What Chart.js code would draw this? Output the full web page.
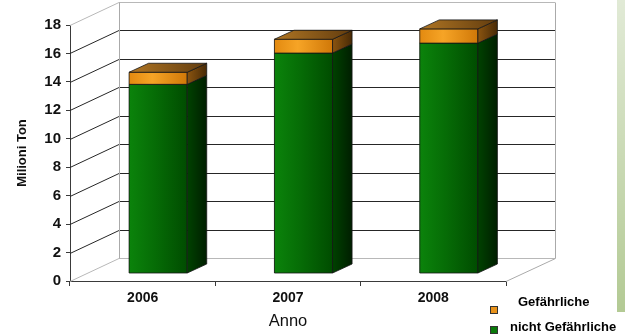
<!DOCTYPE html>
<html>
<head>
<meta charset="utf-8">
<title>Rifiuti speciali</title>
<script src="https://cdn.jsdelivr.net/npm/chart.js@4.4.1/dist/chart.umd.min.js"></script>
<style>
  html, body { margin: 0; padding: 0; background: #fff; }
  #wrap { position: relative; width: 625px; height: 335px; }
  #band {
    position: absolute; left: 617px; top: 0; width: 8px; height: 312px;
    background: linear-gradient(to bottom, #e1ead6, #b3ca94);
  }
</style>
</head>
<body>
<div id="wrap">
  <canvas id="chart" width="625" height="335"></canvas>
  <div id="band"></div>
</div>
<script>
// Anni e quantità (milioni di tonnellate)
const years = ['2006', '2007', '2008'];
const nichtGefaehrliche = [13.3, 15.5, 16.2];
const gefaehrliche = [0.85, 0.97, 1.0];
const yMax = 18;
const yStep = 2;

const FONT = "'Liberation Sans', Arial, sans-serif";

// depth of the floor/walls and of the bars (oblique projection)
const WALL_DX = 49, WALL_DY = -23;
const PLANE_DX = 15.5, PLANE_DY = -7.5;
const BAR_DX = 19.5, BAR_DY = -9;

function gradient(ctx, x0, y0, x1, y1, stops) {
    const g = ctx.createLinearGradient(x0, y0, x1, y1);
    stops.forEach(([p, c]) => g.addColorStop(p, c));
    return g;
}

function poly(ctx, pts, fill) {
    ctx.beginPath();
    ctx.moveTo(pts[0][0], pts[0][1]);
    for (let i = 1; i < pts.length; i++) ctx.lineTo(pts[i][0], pts[i][1]);
    ctx.closePath();
    ctx.fillStyle = fill;
    ctx.fill();
    ctx.stroke();
}

const shades = {
    green: {
        front: [[0, '#0b830b'], [0.45, '#066c06'], [1, '#004c00']],
        side: [[0, '#004200'], [1, '#001e00']]
    },
    orange: {
        front: [[0, '#e38a10'], [0.4, '#f6a426'], [1, '#d07808']],
        side: [[0, '#8a5410'], [1, '#482a06']],
        top: [[0, '#b07624'], [1, '#623c0e']]
    }
};

const box3d = {
    id: 'box3d',
    beforeDatasetsDraw(chart) {
        const { ctx, chartArea: a, scales: { y } } = chart;
        ctx.save();
        ctx.lineWidth = 1;
        // left wall diagonals + back wall grid
        y.ticks.forEach(t => {
            const py = Math.round(y.getPixelForValue(t.value)) + 0.5;
            const edge = t.value === y.min || t.value === y.max;
            ctx.strokeStyle = edge ? '#b8b8b8' : '#262626';
            ctx.beginPath();
            ctx.moveTo(a.left, py);
            ctx.lineTo(a.left + WALL_DX, py + WALL_DY);
            ctx.lineTo(a.right + WALL_DX, py + WALL_DY);
            ctx.stroke();
        });
        // wall edges and floor
        const top = Math.round(a.top) + 0.5 + WALL_DY;
        const bottom = Math.round(a.bottom) + 0.5 + WALL_DY;
        ctx.strokeStyle = '#aaaaaa';
        ctx.beginPath();
        ctx.moveTo(a.left + WALL_DX + 0.5, bottom);
        ctx.lineTo(a.left + WALL_DX + 0.5, top);
        ctx.moveTo(a.right + WALL_DX + 0.5, top);
        ctx.lineTo(a.right + WALL_DX + 0.5, bottom);
        ctx.lineTo(a.right, Math.round(a.bottom) + 0.5);
        ctx.stroke();
        ctx.restore();

        // bars stand a little way into the floor
        ctx.save();
        ctx.translate(PLANE_DX, PLANE_DY);
    },
    afterDatasetsDraw(chart) {
        const { ctx } = chart;
        const last = chart.data.datasets.length - 1;
        ctx.lineWidth = 0.8;
        ctx.strokeStyle = '#161616';
        chart.data.datasets.forEach((ds, di) => {
            const s = shades[ds.shade];
            chart.getDatasetMeta(di).data.forEach(bar => {
                const { x, y, base, width } = bar.getProps(['x', 'y', 'base', 'width'], true);
                const l = x - width / 2, r = x + width / 2;
                poly(ctx, [[l, y], [r, y], [r, base], [l, base]],
                    gradient(ctx, l, 0, r, 0, s.front));
                poly(ctx, [[r, y], [r + BAR_DX, y + BAR_DY], [r + BAR_DX, base + BAR_DY], [r, base]],
                    gradient(ctx, r, 0, r + BAR_DX, 0, s.side));
                if (di === last) {
                    poly(ctx, [[l, y], [l + BAR_DX, y + BAR_DY], [r + BAR_DX, y + BAR_DY], [r, y]],
                        gradient(ctx, l, y, r + BAR_DX, y + BAR_DY, s.top));
                }
            });
        });
        ctx.restore();
    },
    afterDraw(chart) {
        // legend, top entry = last dataset
        const { ctx } = chart;
        const items = chart.data.datasets.slice().reverse();
        const rows = [
            { sq: [490, 306], tx: [518, 302] },
            { sq: [490, 326], tx: [510, 327] }
        ];
        ctx.save();
        ctx.font = 'bold 13px ' + FONT;
        ctx.textBaseline = 'middle';
        ctx.textAlign = 'left';
        items.forEach((ds, i) => {
            const r = rows[i];
            ctx.fillStyle = ds.backgroundColor;
            ctx.strokeStyle = '#333';
            ctx.lineWidth = 1;
            ctx.fillRect(r.sq[0], r.sq[1], 8, 8);
            ctx.strokeRect(r.sq[0] + 0.5, r.sq[1] + 0.5, 7, 7);
            ctx.fillStyle = '#000';
            ctx.fillText(ds.label, r.tx[0], r.tx[1]);
        });
        ctx.restore();
    }
};

new Chart(document.getElementById('chart'), {
    type: 'bar',
    data: {
        labels: years,
        datasets: [
            { label: 'nicht Gefährliche', data: nichtGefaehrliche, backgroundColor: '#0a7a0a', shade: 'green' },
            { label: 'Gefährliche', data: gefaehrliche, backgroundColor: '#e8921a', shade: 'orange' }
        ]
    },
    options: {
        responsive: false,
        animation: false,
        layout: { padding: { top: 25, right: 119, left: 0, bottom: 0 } },
        datasets: { bar: { barPercentage: 0.4, categoryPercentage: 1, borderWidth: 0 } },
        plugins: { legend: { display: false }, tooltip: { enabled: false } },
        scales: {
            x: {
                stacked: true,
                afterFit: s => { s.height = 54; },
                border: { color: '#3a3a3a' },
                grid: { drawOnChartArea: false, drawTicks: true, tickLength: 5, color: '#3a3a3a' },
                ticks: { color: '#111', padding: 4, font: { family: FONT, size: 14, weight: 'bold' } },
                title: {
                    display: true, text: 'Anno', color: '#111',
                    padding: { top: 0, bottom: 4 },
                    font: { family: FONT, size: 16.5 }
                }
            },
            y: {
                stacked: true,
                min: 0, max: yMax,
                afterFit: s => { s.width = 70; },
                border: { color: '#3a3a3a' },
                grid: { drawOnChartArea: false, drawTicks: true, tickLength: 4, color: '#3a3a3a' },
                ticks: { stepSize: yStep, color: '#111', padding: 5, font: { family: FONT, size: 15, weight: 'bold' } },
                title: {
                    display: true, text: 'Milioni Ton', color: '#111',
                    padding: { top: 15, bottom: 0 },
                    font: { family: FONT, size: 13, weight: 'bold' }
                }
            }
        }
    },
    plugins: [box3d]
});
</script>
</body>
</html>
